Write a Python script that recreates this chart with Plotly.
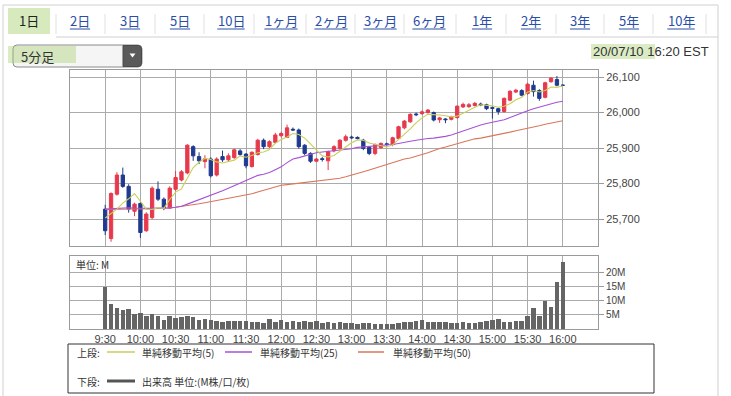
import plotly.graph_objects as go
import pandas as pd

W, H = 731, 396

# ---------------- data ----------------
times = pd.date_range("2020-07-10 09:30", "2020-07-10 16:00", freq="5min")

opens = [25728, 25645, 25770, 25824, 25792, 25722, 25744, 25667, 25704, 25784,
         25756, 25731, 25784, 25810, 25830, 25904, 25876, 25862, 25869, 25824,
         25876, 25867, 25873, 25892, 25883, 25848, 25882, 25922, 25904, 25916,
         25935, 25930, 25953, 25951, 25908, 25885, 25863, 25870, 25864, 25892,
         25899, 25922, 25931, 25930, 25922, 25902, 25885, 25901, 25912, 25910,
         25927, 25957, 25974, 25996, 25997, 26000, 26000, 25980, 25982, 25981,
         25986, 26016, 26017, 26020, 26024, 26022, 26014, 26011, 26003, 26035,
         26058, 26062, 26054, 26077, 26062, 26043, 26087, 26093, 26077]
highs = [25740, 25775, 25832, 25845, 25798, 25746, 25747, 25719, 25792, 25806,
         25761, 25792, 25835, 25838, 25911, 25908, 25888, 25880, 25874, 25874,
         25893, 25885, 25898, 25897, 25886, 25891, 25926, 25927, 25922, 25943,
         25946, 25966, 25958, 25955, 25911, 25888, 25872, 25875, 25893, 25908,
         25925, 25938, 25935, 25933, 25926, 25905, 25913, 25916, 25915, 25932,
         25963, 25979, 25998, 26000, 26006, 26010, 26003, 25988, 25984, 25991,
         26021, 26028, 26027, 26030, 26028, 26025, 26018, 26014, 26043, 26063,
         26067, 26066, 26084, 26090, 26066, 26087, 26100, 26103, 26078]
lows = [25655, 25636, 25766, 25788, 25718, 25708, 25647, 25664, 25700, 25751,
        25725, 25728, 25780, 25806, 25826, 25864, 25855, 25843, 25817, 25820,
        25861, 25862, 25870, 25878, 25843, 25845, 25879, 25897, 25900, 25913,
        25930, 25928, 25948, 25898, 25880, 25858, 25860, 25862, 25838, 25888,
        25896, 25918, 25926, 25924, 25894, 25880, 25880, 25898, 25907, 25905,
        25924, 25953, 25971, 25990, 25994, 25997, 25975, 25971, 25970, 25978,
        25983, 26013, 26013, 26017, 26018, 26007, 25983, 25994, 26000, 26032,
        26055, 26046, 26050, 26045, 26033, 26040, 26084, 26074, 26076]
closes = [25667, 25772, 25824, 25792, 25728, 25742, 25662, 25714, 25787, 25756,
          25731, 25787, 25817, 25833, 25908, 25878, 25864, 25870, 25822, 25869,
          25867, 25878, 25895, 25882, 25850, 25888, 25922, 25904, 25918, 25937,
          25941, 25957, 25951, 25904, 25885, 25863, 25869, 25868, 25890, 25904,
          25922, 25932, 25929, 25927, 25899, 25885, 25910, 25913, 25910, 25929,
          25960, 25976, 25995, 25994, 26002, 26007, 25979, 25985, 25980, 25988,
          26018, 26023, 26022, 26026, 26022, 26011, 26012, 26003, 26040, 26060,
          26063, 26049, 26080, 26059, 26040, 26084, 26097, 26077, 26077]

sma5 = [25703, 25715, 25728, 25745, 25757, 25772, 25750, 25728, 25727, 25732,
        25730, 25755, 25776, 25785, 25815, 25845, 25860, 25871, 25868, 25861,
        25858, 25861, 25866, 25878, 25874, 25879, 25887, 25889, 25896, 25914,
        25924, 25931, 25941, 25938, 25928, 25912, 25894, 25878, 25875, 25879,
        25891, 25903, 25915, 25923, 25922, 25914, 25910, 25907, 25903, 25909,
        25924, 25938, 25954, 25971, 25985, 25995, 25995, 25993, 25991, 25988,
        25990, 25999, 26006, 26015, 26022, 26021, 26019, 26015, 26018, 26025,
        26036, 26043, 26058, 26062, 26058, 26062, 26072, 26071, 26075]
sma25 = [25728, 25729, 25731, 25732, 25732, 25731, 25730, 25729, 25730, 25731,
         25730, 25731, 25733, 25736, 25742, 25748, 25754, 25760, 25767, 25773,
         25780, 25787, 25794, 25801, 25808, 25817, 25823, 25826, 25831, 25839,
         25847, 25859, 25869, 25873, 25878, 25884, 25887, 25889, 25891, 25891,
         25893, 25896, 25898, 25902, 25903, 25904, 25905, 25906, 25907, 25910,
         25913, 25915, 25919, 25922, 25925, 25927, 25928, 25930, 25933, 25937,
         25943, 25949, 25955, 25961, 25965, 25969, 25972, 25975, 25980, 25986,
         25993, 25999, 26005, 26011, 26016, 26021, 26026, 26029, 26032]
sma50 = [25727, 25727, 25728, 25728, 25728, 25728, 25728, 25729, 25729, 25730,
         25730, 25731, 25733, 25735, 25737, 25740, 25743, 25746, 25749, 25752,
         25755, 25758, 25761, 25764, 25767, 25771, 25776, 25781, 25786, 25791,
         25795, 25797, 25799, 25801, 25802, 25803, 25805, 25807, 25809, 25812,
         25815, 25819, 25823, 25828, 25833, 25838, 25843, 25849, 25854, 25859,
         25865, 25869, 25872, 25876, 25882, 25887, 25894, 25899, 25903, 25908,
         25913, 25918, 25922, 25926, 25928, 25931, 25934, 25937, 25941, 25945,
         25949, 25952, 25956, 25959, 25963, 25967, 25970, 25974, 25977]

volume = [15.1, 8.9, 7.4, 6.8, 7.1, 5.3, 5.6, 4.6, 5.2, 4.8,
          3.2, 4.6, 3.8, 4.4, 4.8, 4.4, 3.2, 3.6, 3.2, 3.0,
          2.6, 2.7, 2.9, 2.9, 2.9, 2.6, 2.6, 2.0, 3.6, 2.6,
          3.2, 2.6, 2.9, 2.6, 2.7, 2.4, 2.7, 2.0, 2.6, 2.1,
          2.4, 2.1, 2.0, 1.8, 2.0, 2.0, 1.8, 1.8, 1.8, 1.8,
          2.0, 2.6, 2.4, 2.9, 3.2, 2.4, 2.4, 2.6, 2.6, 2.2,
          2.0, 2.4, 2.2, 2.0, 2.4, 2.9, 3.2, 3.4, 2.6, 2.6,
          3.0, 2.8, 4.6, 7.4, 4.8, 9.8, 8.0, 16.7, 24.0]

price_ticks = [25700, 25800, 25900, 26000, 26100]
vol_ticks = [5, 10, 15, 20]
vol_tick_text = ["5M", "10M", "15M", "20M"]
time_tick_text = ["9:30", "10:00", "10:30", "11:00", "11:30", "12:00", "12:30",
                  "13:00", "13:30", "14:00", "14:30", "15:00", "15:30", "16:00"]
time_tick_vals = ["2020-07-10 " + (t if len(t) == 5 else "0" + t) for t in time_tick_text]
tabs = ["1日", "2日", "3日", "5日", "10日", "1ヶ月", "2ヶ月", "3ヶ月", "6ヶ月",
        "1年", "2年", "3年", "5年", "10年"]
ma_names = ["単純移動平均(5)", "単純移動平均(25)", "単純移動平均(50)"]

# ---------------- style ----------------
RED = "#e63a4c"
BLUE = "#1f3a8f"
C5 = "#c9cf5a"
C25 = "#a552d6"
C50 = "#d9765a"
VOLC = "#656565"
GRID = "#ababab"
FRAME = "#9a9a9a"
TXT = "#333333"
LINK = "#2a4ea6"
JP = "Noto Sans CJK JP"
NUM = "Liberation Sans"


def px(x):
    return x / W


def py(y):
    return 1 - y / H


X0, X1 = 70, 598
fig = go.Figure()

fig.add_trace(go.Candlestick(
    x=times, open=opens, high=highs, low=lows, close=closes,
    increasing=dict(line=dict(color=RED, width=1), fillcolor=RED),
    decreasing=dict(line=dict(color=BLUE, width=1), fillcolor=BLUE),
    whiskerwidth=0, showlegend=False, hoverinfo="skip", xaxis="x", yaxis="y"))
for vals, col in [(sma50, C50), (sma25, C25), (sma5, C5)]:
    fig.add_trace(go.Scatter(x=times, y=vals, mode="lines",
                             line=dict(color=col, width=1.1),
                             showlegend=False, hoverinfo="skip",
                             xaxis="x", yaxis="y"))
fig.add_trace(go.Bar(x=times, y=volume, marker=dict(color=VOLC, line=dict(width=0)),
                     width=230000, showlegend=False, hoverinfo="skip",
                     xaxis="x2", yaxis="y2"))

xr = ["2020-07-10 09:00", "2020-07-10 16:30"]
common_x = dict(type="date", range=xr, domain=[px(X0), px(X1)],
                tickmode="array", tickvals=time_tick_vals,
                showgrid=True, gridcolor=GRID, gridwidth=1,
                showline=True, mirror=True, linecolor=FRAME, linewidth=1,
                zeroline=False, fixedrange=True)

fig.update_layout(
    width=W, height=H, margin=dict(l=0, r=0, t=0, b=0),
    paper_bgcolor="white", plot_bgcolor="white",
    boxgap=0.2,
    bargap=0,
    xaxis=dict(**common_x, showticklabels=False, anchor="y",
               rangeslider=dict(visible=False)),
    yaxis=dict(domain=[py(246), py(70)], range=[25624, 26120], side="right",
               tickmode="array", tickvals=price_ticks, tickformat=",d",
               ticks="outside", ticklen=5, tickcolor=FRAME,
               showgrid=True, gridcolor=GRID, gridwidth=1,
               showline=True, mirror=True, linecolor=FRAME, linewidth=1,
               zeroline=False, anchor="x",
               tickfont=dict(family=NUM, size=11, color="#444")),
    xaxis2=dict(**common_x, ticktext=time_tick_text, showticklabels=True,
                anchor="y2", ticks="",
                tickfont=dict(family=NUM, size=11, color="#444")),
    yaxis2=dict(domain=[py(329), py(256)], range=[0, 26], side="right",
                tickmode="array", tickvals=vol_ticks, ticktext=vol_tick_text,
                ticks="outside", ticklen=5, tickcolor=FRAME,
                showgrid=True, gridcolor=GRID, gridwidth=1,
                showline=True, mirror=True, linecolor=FRAME, linewidth=1,
                zeroline=False, anchor="x2",
                tickfont=dict(family=NUM, size=10, color="#444")),
)

shapes = []
ann = []


def line(x0, y0, x1, y1, color, width=1):
    shapes.append(dict(type="line", xref="paper", yref="paper",
                       x0=px(x0), y0=py(y0), x1=px(x1), y1=py(y1),
                       line=dict(color=color, width=width)))


def rect(x0, y0, x1, y1, fill, lc=None, lw=0, opacity=1):
    shapes.append(dict(type="rect", xref="paper", yref="paper",
                       x0=px(x0), y0=py(y0), x1=px(x1), y1=py(y1),
                       fillcolor=fill, opacity=opacity,
                       line=dict(color=lc or fill, width=lw)))


def text(x, y, s, size=10, color=TXT, family=JP, xanchor="left"):
    ann.append(dict(xref="paper", yref="paper", x=px(x), y=py(y), text=s,
                    showarrow=False, xanchor=xanchor, yanchor="middle",
                    font=dict(family=family, size=size, color=color)))


# green highlighter marks
rect(8, 8, 50, 34, "rgba(165,208,110,0.45)")
rect(591, 44, 655, 59, "rgba(165,208,110,0.40)")

# outer panel frame + tab row
line(3, 5, 718, 5, "#d0d0d0")
line(3, 5, 3, 396, "#d0d0d0")
line(718, 5, 718, 396, "#d0d0d0")
line(56, 37, 718, 37, "#d0d0d0")
tab_cx = [29, 80, 130, 180, 231, 281, 331, 380, 429, 482, 531, 580, 629, 681]
seps = [56, 105, 155, 204, 254, 306, 355, 404, 456, 506, 556, 604, 653, 706]
for sx in seps:
    line(sx, 14, sx, 34, "#e0e0e0")


def tw(s):
    w = 0
    for ch in s:
        w += 7.2 if ch.isdigit() else 13
    return w


for i, (t, cx) in enumerate(zip(tabs, tab_cx)):
    if i == 0:
        text(cx, 21, t, size=13, color="#222", xanchor="center")
    else:
        text(cx, 21, t, size=13, color=LINK, xanchor="center")
        w = tw(t)
        line(cx - w / 2, 29, cx + w / 2, 29, LINK, 1)

# dropdown
shapes.append(dict(type="path", xref="paper", yref="paper",
                   path=f"M {px(17)},{py(45)} L {px(138)},{py(45)} Q {px(142)},{py(45)} {px(142)},{py(49)} "
                        f"L {px(142)},{py(63)} Q {px(142)},{py(67)} {px(138)},{py(67)} L {px(17)},{py(67)} "
                        f"Q {px(13)},{py(67)} {px(13)},{py(63)} L {px(13)},{py(49)} Q {px(13)},{py(45)} {px(17)},{py(45)} Z",
                   fillcolor="#f5f5f5", line=dict(color="#8a8a8a", width=1)))
shapes.append(dict(type="path", xref="paper", yref="paper",
                   path=f"M {px(123)},{py(45.5)} L {px(138)},{py(45.5)} Q {px(141.5)},{py(45.5)} {px(141.5)},{py(49)} "
                        f"L {px(141.5)},{py(63)} Q {px(141.5)},{py(66.5)} {px(138)},{py(66.5)} L {px(123)},{py(66.5)} Z",
                   fillcolor="#5a5a5a", line=dict(color="#4a4a4a", width=1)))
shapes.append(dict(type="path", xref="paper", yref="paper",
                   path=f"M {px(129.5)},{py(53.5)} L {px(135.5)},{py(53.5)} L {px(132.5)},{py(57.5)} Z",
                   fillcolor="white", line=dict(color="white", width=0)))
rect(8, 46, 76, 63, "rgba(165,208,110,0.40)")
text(19, 56, "5分足", size=13, color="#333")

# date stamp
text(711, 51, "20/07/10 16:20 EST", size=13, color="#333", family=NUM, xanchor="right")

# volume unit label
text(74, 264, "単位: M", size=10, color="#333")

# legend box
rect(68, 344, 654, 393, "rgba(0,0,0,0)", lc="#333", lw=1)
text(75, 352, "上段:", size=10)
leg_x = [(107, 135, 140), (225, 252, 258), (358, 384, 391)]
for (a, b, tx), col, name in zip(leg_x, [C5, C25, C50], ma_names):
    line(a, 352, b, 352, col, 1.5)
    text(tx, 352, name, size=10)
text(75, 381, "下段:", size=10)
line(107, 381, 135, 381, "#555", 3)
text(140, 381, "出来高 単位:(M株/口/枚)", size=10)

fig.update_layout(shapes=shapes, annotations=ann)

fig.write_html("out.html", include_plotlyjs=True,
               config=dict(displayModeBar=False, staticPlot=True),
               post_script="document.body.style.margin='0';document.body.style.overflow='hidden';")
